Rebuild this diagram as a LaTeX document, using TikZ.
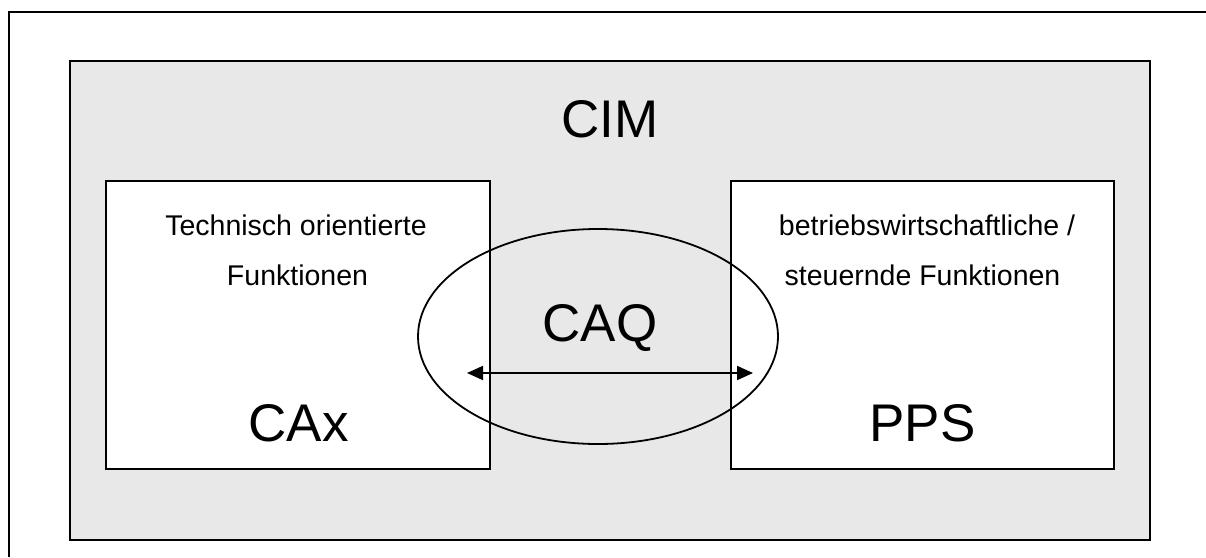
\documentclass[tikz,border=0pt]{standalone}
\usepackage{fontspec}
\setmainfont{Liberation Sans}
\usetikzlibrary{shapes.geometric,arrows.meta}
\definecolor{cimgray}{RGB}{232,232,232}
\tikzset{
  frame/.style={draw=black,line width=2pt},
  cimarea/.style={frame,fill=cimgray,rectangle,inner sep=0pt},
  funcbox/.style={frame,fill=white,rectangle,inner sep=0pt,minimum width=384pt,minimum height=288pt},
  caqring/.style={draw=black,line width=1.8pt,ellipse,inner sep=0pt,minimum width=360pt,minimum height=215pt},
  biglabel/.style={anchor=base,inner sep=0pt,font=\fontsize{53}{60}\selectfont},
  smalllabel/.style={anchor=base,inner sep=0pt,font=\fontsize{28.5}{34}\selectfont},
  link/.style={line width=1.8pt,{Triangle[length=16pt,width=14pt]}-{Triangle[length=16pt,width=14pt]}}
}
\begin{document}
\begin{tikzpicture}[x=1pt,y=-1pt]
  \useasboundingbox (0,0) rectangle (1206,557);
  % open outer frame (top and left edges)
  \coordinate (fbl) at (9,557);
  \coordinate (ftl) at (9,12);
  \coordinate (ftr) at (1206,12);
  \draw[line width=2pt] (fbl) -- (ftl) -- (ftr);
  % CIM area
  \node[cimarea,minimum width=1080pt,minimum height=479pt] (cim) at (610,300.5) {};
  % function boxes
  \node[funcbox] (cax) at (298,325) {};
  \node[funcbox,minimum width=383pt] (pps) at (922.5,325) {};
  % CAQ ring
  \node[caqring] (caq) at (598,336.5) {};
  % link between CAx and PPS
  \coordinate (la) at (467,373);
  \coordinate (lb) at (753,373);
  \draw[link] (la) -- (lb);
  % labels
  \node[biglabel] (cimt) at (610,137) {CIM};
  \node[biglabel] (caqt) at (600,341) {CAQ};
  \node[biglabel] (caxt) at (298.5,441.5) {CAx};
  \node[biglabel] (ppst) at (922.5,441.5) {PPS};
  \node[smalllabel] (t1) at (296,235) {Technisch orientierte};
  \node[smalllabel] (t2) at (297.5,285) {Funktionen};
  \node[smalllabel] (t3) at (927,235) {betriebswirtschaftliche /};
  \node[smalllabel] (t4) at (922.5,285) {steuernde Funktionen};
\end{tikzpicture}
\end{document}
